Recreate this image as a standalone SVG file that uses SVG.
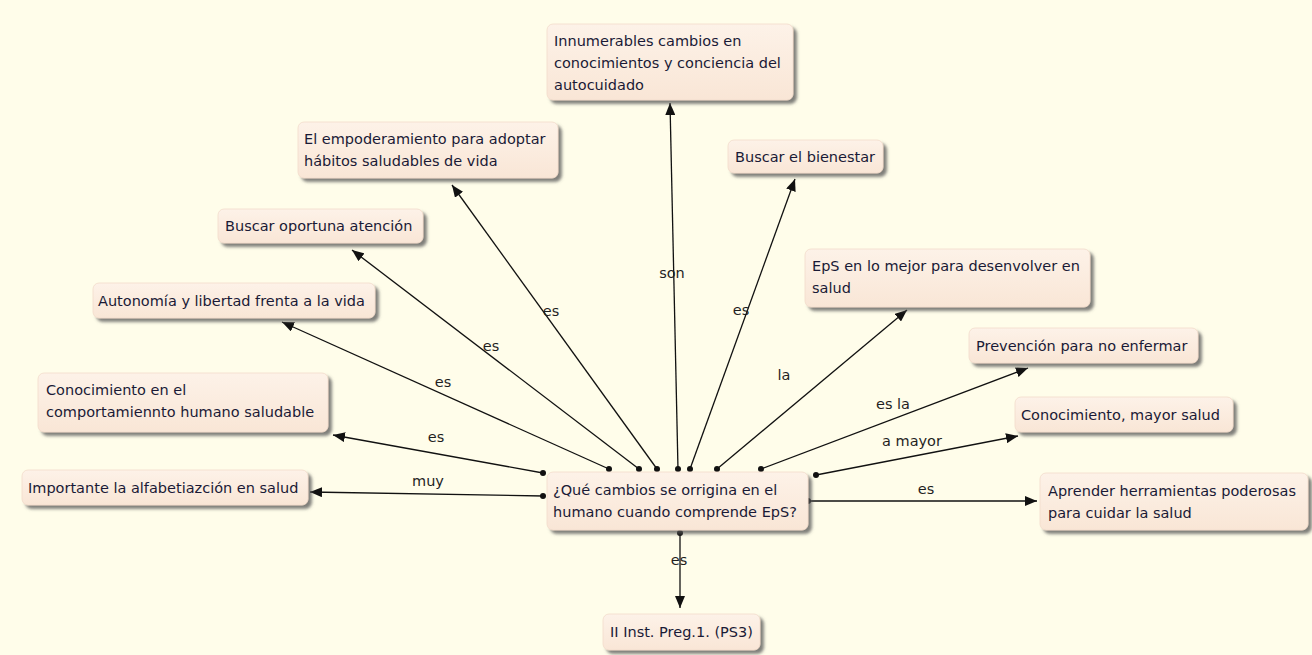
<svg xmlns="http://www.w3.org/2000/svg" width="1312" height="655" viewBox="0 0 1312 655">
  <style>
    .box { fill: url(#boxFill); stroke: #f3dccb; stroke-width: 0.8; filter: url(#shadow); }
    .txt { font-family: "DejaVu Sans", "Liberation Sans", sans-serif; font-size: 14.5px; fill: #1a1a36; }
    .lbl { font-family: "DejaVu Sans", "Liberation Sans", sans-serif; font-size: 14.5px; fill: #1f1f1f; text-anchor: middle; }
    .edge { stroke: #111; stroke-width: 1.3; fill: none; marker-end: url(#arrow); }
    .dot { fill: #111; }
  </style>
  <defs>
    <linearGradient id="boxFill" x1="0" y1="0" x2="0" y2="1">
      <stop offset="0" stop-color="#fdf2e8"/>
      <stop offset="1" stop-color="#f9e6d6"/>
    </linearGradient>
    <filter id="shadow" x="-10%" y="-20%" width="125%" height="160%">
      <feDropShadow dx="3.5" dy="3.5" stdDeviation="1.4" flood-color="#555" flood-opacity="0.75"/>
    </filter>
    <marker id="arrow" markerUnits="userSpaceOnUse" markerWidth="12" markerHeight="10" viewBox="0 0 12 10" refX="12" refY="5" orient="auto">
      <path d="M0,0 L12,5 L0,10 Z" fill="#111"/>
    </marker>
  </defs>

  <rect width="1312" height="655" fill="#fffdea"/>

  <!-- connectors: center concept to each result -->
  <g id="connectors">
    <line class="edge" x1="543" y1="496" x2="310" y2="492"/>
    <line class="edge" x1="543" y1="473" x2="333" y2="435"/>
    <line class="edge" x1="609" y1="469" x2="282" y2="322"/>
    <line class="edge" x1="639" y1="469" x2="352" y2="250"/>
    <line class="edge" x1="657" y1="469" x2="452" y2="185"/>
    <line class="edge" x1="678" y1="469" x2="670" y2="103"/>
    <line class="edge" x1="690" y1="469" x2="795" y2="179"/>
    <line class="edge" x1="717" y1="469" x2="907" y2="310"/>
    <line class="edge" x1="761" y1="469" x2="1028" y2="368"/>
    <line class="edge" x1="816" y1="475" x2="1018" y2="436"/>
    <line class="edge" x1="808" y1="501" x2="1037" y2="501"/>
    <line class="edge" x1="680" y1="533" x2="680" y2="608"/>
    <g class="dots">
      <circle class="dot" cx="543" cy="496" r="3"/>
      <circle class="dot" cx="543" cy="473" r="3"/>
      <circle class="dot" cx="609" cy="469" r="3"/>
      <circle class="dot" cx="639" cy="469" r="3"/>
      <circle class="dot" cx="657" cy="469" r="3"/>
      <circle class="dot" cx="678" cy="469" r="3"/>
      <circle class="dot" cx="690" cy="469" r="3"/>
      <circle class="dot" cx="717" cy="469" r="3"/>
      <circle class="dot" cx="761" cy="469" r="3"/>
      <circle class="dot" cx="816" cy="475" r="3"/>
      <circle class="dot" cx="808" cy="501" r="3"/>
      <circle class="dot" cx="680" cy="533" r="3"/>
    </g>
    <g class="labels">
      <text class="lbl" x="428" y="486">muy</text>
      <text class="lbl" x="436" y="442">es</text>
      <text class="lbl" x="443" y="387">es</text>
      <text class="lbl" x="491" y="351">es</text>
      <text class="lbl" x="551" y="316">es</text>
      <text class="lbl" x="672" y="278">son</text>
      <text class="lbl" x="741" y="315">es</text>
      <text class="lbl" x="784" y="380">la</text>
      <text class="lbl" x="893" y="409">es la</text>
      <text class="lbl" x="912" y="446">a mayor</text>
      <text class="lbl" x="926" y="494">es</text>
      <text class="lbl" x="679" y="565">es</text>
    </g>
  </g>

  <g id="center">
    <rect class="box" x="547" y="472" width="261" height="58" rx="6"/>
    <text class="txt" x="553" y="495">¿Qué cambios se orrigina en el</text>
    <text class="txt" x="553" y="517">humano cuando comprende EpS?</text>
  </g>

  <g id="innumerables">
    <rect class="box" x="547" y="24" width="246" height="76" rx="6"/>
    <text class="txt" x="554" y="46">Innumerables cambios en</text>
    <text class="txt" x="554" y="68">conocimientos y conciencia del</text>
    <text class="txt" x="554" y="90">autocuidado</text>
  </g>

  <g id="empoderamiento">
    <rect class="box" x="298" y="122" width="260" height="56" rx="6"/>
    <text class="txt" x="304" y="144">El empoderamiento para adoptar</text>
    <text class="txt" x="304" y="166">hábitos saludables de vida</text>
  </g>

  <g id="bienestar">
    <rect class="box" x="728" y="140" width="155" height="33" rx="6"/>
    <text class="txt" x="735" y="162">Buscar el bienestar</text>
  </g>

  <g id="atencion">
    <rect class="box" x="218" y="209" width="205" height="34" rx="6"/>
    <text class="txt" x="225" y="231">Buscar oportuna atención</text>
  </g>

  <g id="eps-mejor">
    <rect class="box" x="805" y="249" width="285" height="58" rx="6"/>
    <text class="txt" x="812" y="271">EpS en lo mejor para desenvolver en</text>
    <text class="txt" x="812" y="293">salud</text>
  </g>

  <g id="autonomia">
    <rect class="box" x="93" y="283" width="282" height="35" rx="6"/>
    <text class="txt" x="98" y="306">Autonomía y libertad frenta a la vida</text>
  </g>

  <g id="prevencion">
    <rect class="box" x="969" y="328" width="229" height="35" rx="6"/>
    <text class="txt" x="976" y="351">Prevención para no enfermar</text>
  </g>

  <g id="comportamiento">
    <rect class="box" x="38" y="373" width="290" height="59" rx="6"/>
    <text class="txt" x="46" y="395">Conocimiento en el</text>
    <text class="txt" x="46" y="417">comportamiennto humano saludable</text>
  </g>

  <g id="mayor-salud">
    <rect class="box" x="1015" y="397" width="218" height="35" rx="6"/>
    <text class="txt" x="1021" y="420">Conocimiento, mayor salud</text>
  </g>

  <g id="alfabetizacion">
    <rect class="box" x="22" y="470" width="286" height="35" rx="6"/>
    <text class="txt" x="28" y="493">Importante la alfabetiazción en salud</text>
  </g>

  <g id="herramientas">
    <rect class="box" x="1040" y="473" width="268" height="57" rx="6"/>
    <text class="txt" x="1048" y="496">Aprender herramientas poderosas</text>
    <text class="txt" x="1048" y="518">para cuidar la salud</text>
  </g>

  <g id="inst-preg">
    <rect class="box" x="603" y="614" width="157" height="36" rx="6"/>
    <text class="txt" x="610" y="637">II Inst. Preg.1. (PS3)</text>
  </g>
</svg>
